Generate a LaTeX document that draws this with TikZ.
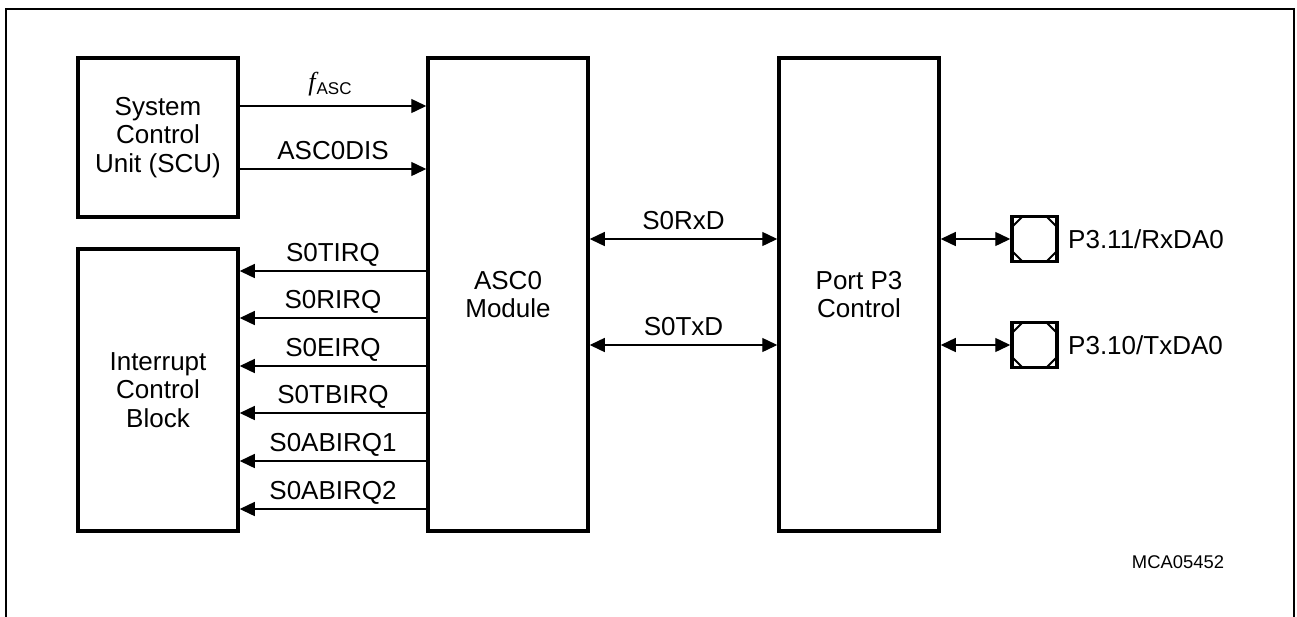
\documentclass[tikz,border=0pt]{standalone}
\usepackage{fontspec}
\setmainfont{Liberation Sans}
\newfontfamily\seriffont{Liberation Serif}
\usetikzlibrary{arrows.meta}
\begin{document}
\begin{tikzpicture}[x=1pt,y=-1pt,
  blk/.style={draw, line width=3.5pt, minimum width=160pt, inner sep=0pt, align=center,
              font=\fontsize{26}{28.5}\selectfont},
  tip/.style={Triangle[length=15pt,width=14pt]},
  sig/.style={line width=1.4pt, -{Triangle[length=15pt,width=14pt]}},
  bidir/.style={line width=1.4pt, {Triangle[length=15pt,width=14pt]}-{Triangle[length=15pt,width=14pt]}},
  lab/.style={font=\fontsize{26}{28.5}\selectfont, anchor=base, inner sep=0pt},
  pad/.style={draw, line width=3.5pt, minimum size=45pt, inner sep=0pt},
  octo/.style={line width=2pt},
]
\useasboundingbox (0,0) rectangle (1297,616);
\fill[white] (0,0) rectangle (1297,616);
% outer frame (bottom edge lies below the picture)
\draw[line width=2.5pt] (6,640) -- (6,9) -- (1294,9) -- (1294,640);

% blocks
\node[blk, minimum height=159pt] (scu) at (158,137.5) {System\\Control\\Unit (SCU)};
\node[blk, minimum height=282pt] (icb) at (158,390) {Interrupt\\Control\\Block};
\node[blk, minimum height=473pt] (asc) at (508,294.5) {ASC0\\Module};
\node[blk, minimum height=473pt] (port) at (859,294.5) {Port P3\\Control};

% SCU -> ASC0
\draw[sig] (scu.east |- 0,106) -- (asc.west |- 0,106);
\node[anchor=base, inner sep=0pt] (lfasc) at (330,90)
  {{\seriffont\itshape\fontsize{26}{26}\selectfont f}\kern1pt\raisebox{-4pt}{\fontsize{17}{17}\selectfont ASC}};
\draw[sig] (scu.east |- 0,169) -- node[lab, yshift=10pt] (ldis) {ASC0DIS} (asc.west |- 0,169);

% ASC0 -> interrupt block
\draw[sig] (asc.west |- 0,271) -- node[lab, yshift=10pt] (l1) {S0TIRQ} (icb.east |- 0,271);
\draw[sig] (asc.west |- 0,318) -- node[lab, yshift=10pt] (l2) {S0RIRQ} (icb.east |- 0,318);
\draw[sig] (asc.west |- 0,366) -- node[lab, yshift=10pt] (l3) {S0EIRQ} (icb.east |- 0,366);
\draw[sig] (asc.west |- 0,413) -- node[lab, yshift=10pt] (l4) {S0TBIRQ} (icb.east |- 0,413);
\draw[sig] (asc.west |- 0,461) -- node[lab, yshift=10pt] (l5) {S0ABIRQ1} (icb.east |- 0,461);
\draw[sig] (asc.west |- 0,509) -- node[lab, yshift=10pt] (l6) {S0ABIRQ2} (icb.east |- 0,509);

% ASC0 <-> Port
\draw[bidir] (asc.east |- 0,239) -- node[lab, yshift=10pt] (lrx) {S0RxD} (port.west |- 0,239);
\draw[bidir] (asc.east |- 0,345) -- node[lab, yshift=10pt] (ltx) {S0TxD} (port.west |- 0,345);

% pads
\node[pad] (pad1) at (1034.5,239) {};
\node[pad] (pad2) at (1034.5,345) {};
\foreach \p in {pad1,pad2}{
  \draw[octo] ([shift={(-12,-22.5)}]\p.center) -- ([shift={(12,-22.5)}]\p.center)
    -- ([shift={(22.5,-12)}]\p.center) -- ([shift={(22.5,12)}]\p.center)
    -- ([shift={(12,22.5)}]\p.center) -- ([shift={(-12,22.5)}]\p.center)
    -- ([shift={(-22.5,12)}]\p.center) -- ([shift={(-22.5,-12)}]\p.center) -- cycle;
}
\draw[bidir] (port.east |- pad1) -- (pad1.west);
\draw[bidir] (port.east |- pad2) -- (pad2.west);
\node[lab, anchor=base west] (lp1) at (1068,248) {P3.11/RxDA0};
\node[lab, anchor=base west] (lp2) at (1068,354) {P3.10/TxDA0};

\node[anchor=base, inner sep=0pt, font=\fontsize{18.4}{20}\selectfont] (id) at (1178,568) {MCA05452};
\end{tikzpicture}
\end{document}
